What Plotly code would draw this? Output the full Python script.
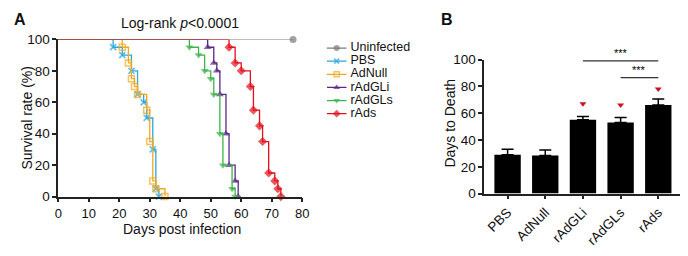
import plotly.graph_objects as go

# ---------------- data ----------------
groups = ["Uninfected", "PBS", "AdNull", "rAdGLi", "rAdGLs", "rAds"]
uninf_days = [77]
uninf_surv = [100]
pbs_days = [18, 21, 24, 26, 28, 29, 31, 32, 33]
pbs_surv = [95, 90, 80, 65, 60, 50, 30, 5, 0]
adnull_days = [21, 23, 24, 25, 26, 29, 30, 31, 32, 35]
adnull_surv = [95, 85, 75, 70, 65, 55, 35, 10, 5, 0]
gli_days = [49, 51, 52, 53, 55, 56, 58, 59]
gli_surv = [95, 85, 80, 65, 40, 20, 10, 0]
gls_days = [43, 46, 48, 50, 51, 53, 54, 57, 58]
gls_surv = [95, 90, 80, 75, 65, 40, 20, 5, 0]
ads_days = [56, 58, 60, 63, 64, 66, 67, 69, 71, 72, 73]
ads_surv = [95, 85, 80, 70, 55, 45, 35, 15, 10, 5, 0]

bar_cats = ["PBS", "AdNull", "rAdGLi", "rAdGLs", "rAds"]
bar_means = [29, 28.5, 55, 53, 66]
bar_sem = [4, 4, 2.5, 3.8, 4.6]
sig_marks_y = [None, None, 67, 66, 78]
x_ticks_a = [0, 10, 20, 30, 40, 50, 60, 70, 80]
y_ticks = [0, 20, 40, 60, 80, 100]

# ---------------- style ----------------
OFF = 8                      # default page margin of the html body
W, H = 688 - OFF, 256 - 2 * OFF
FONT = "Arial, Liberation Sans, sans-serif"
styles = {
    "Uninfected": dict(color="#7a7a7a", symbol="circle", size=7, lw=0),
    "PBS": dict(color="#2aa6e0", symbol="x-thin", size=6, lw=1.8),
    "AdNull": dict(color="#f2a81d", symbol="square-open", size=6, lw=1.5),
    "rAdGLi": dict(color="#5b2786", symbol="triangle-up", size=7, lw=0),
    "rAdGLs": dict(color="#3cb44a", symbol="triangle-down", size=7, lw=0),
    "rAds": dict(color="#e3101c", symbol="diamond", size=7, lw=0),
}
series = {
    "Uninfected": (uninf_days, uninf_surv),
    "PBS": (pbs_days, pbs_surv),
    "AdNull": (adnull_days, adnull_surv),
    "rAdGLi": (gli_days, gli_surv),
    "rAdGLs": (gls_days, gls_surv),
    "rAds": (ads_days, ads_surv),
}


def px(x):
    return (x - OFF) / W


def py(y):
    return 1 - (y - OFF) / H


fig = go.Figure()

# ---- panel A : Kaplan-Meier curves ----
for g in groups:
    d, s = series[g]
    st = styles[g]
    xs = [0] + list(d)
    ys = [100] + list(s)
    sizes = [0] + [st["size"]] * len(d)
    fig.add_trace(go.Scatter(
        x=xs, y=ys, mode="lines+markers", line=dict(shape="hv", color=st["color"], width=1.3),
        marker=dict(symbol=st["symbol"], size=sizes, color=st["color"],
                    line=dict(width=st["lw"], color=st["color"])),
        xaxis="x", yaxis="y", cliponaxis=False, showlegend=False, name=g))

# ---- manual legend (icon spans 0..1 of x3, labels to the right) ----
for i, g in enumerate(groups):
    st = styles[g]
    fig.add_trace(go.Scatter(
        x=[0, 0.5, 1], y=[i, i, i], mode="lines+markers",
        line=dict(color=st["color"], width=1.3),
        marker=dict(symbol=st["symbol"], size=[0, st["size"] - 1, 0], color=st["color"],
                    line=dict(width=st["lw"], color=st["color"])),
        xaxis="x3", yaxis="y3", cliponaxis=False, showlegend=False, hoverinfo="skip"))
fig.add_trace(go.Scatter(
    x=[1.2] * len(groups), y=list(range(len(groups))), mode="text", text=groups,
    textposition="middle right", textfont=dict(family=FONT, size=12.5, color="#111"),
    xaxis="x3", yaxis="y3", cliponaxis=False, showlegend=False, hoverinfo="skip"))

# ---- panel B : bars ----
bx = list(range(len(bar_cats)))
fig.add_trace(go.Bar(
    x=bx, y=bar_means, width=0.7, marker=dict(color="#000", line=dict(width=0)),
    error_y=dict(type="data", symmetric=False, array=bar_sem, arrayminus=[0] * len(bar_sem),
                 color="#000", thickness=1.5, width=6),
    xaxis="x2", yaxis="y2", showlegend=False))
sx = [x for x, v in zip(bx, sig_marks_y) if v is not None]
sy = [v for v in sig_marks_y if v is not None]
fig.add_trace(go.Scatter(x=sx, y=sy, mode="markers",
                         marker=dict(symbol="triangle-down", size=6, color="#d0101c"),
                         xaxis="x2", yaxis="y2", cliponaxis=False, showlegend=False))

# significance brackets (line in data units, stars in paper y)
for (x0, x1, yl, star_px) in [(2, 4, 99, 48.5), (3, 4, 86.5, 66.5)]:
    fig.add_shape(type="line", x0=x0, x1=x1, y0=yl, y1=yl, xref="x2", yref="y2",
                  line=dict(color="#333", width=1.3))
    fig.add_annotation(x=(x0 + x1) / 2, y=py(star_px), xref="x2", yref="paper", text="***",
                       showarrow=False, yanchor="middle",
                       font=dict(family=FONT, size=11, color="#000"))

axis_common = dict(showline=True, linecolor="#222", linewidth=1.5, ticks="outside",
                   ticklen=4, tickwidth=1.5, tickcolor="#222", showgrid=False, zeroline=False)
tf = dict(family=FONT, size=13.5, color="#111")

fig.update_layout(
    width=W, height=H, margin=dict(l=0, r=0, t=0, b=0),
    paper_bgcolor="white", plot_bgcolor="white",
    font=dict(family=FONT, color="#111"),
    xaxis=dict(domain=[px(55), px(303)], range=[0, 80], tickvals=x_ticks_a, anchor="y",
               tickfont=dict(family=FONT, size=13, color="#111"), **axis_common),
    yaxis=dict(domain=[py(201.7), py(34)], range=[0, 100], tickvals=y_ticks, anchor="x",
               tickfont=tf, **axis_common),
    xaxis2=dict(domain=[px(488), px(687)], range=[-0.62, 4.577], tickvals=bx, ticktext=bar_cats,
                tickangle=-45, anchor="y2", tickfont=tf, **axis_common),
    yaxis2=dict(domain=[py(198.5), py(55.5)], range=[0, 100], tickvals=y_ticks, anchor="x2",
                tickfont=tf, **axis_common),
    # legend box: 0..1 of x3 maps to pixels 328..348
    xaxis3=dict(domain=[px(328), px(428)], range=[0, 5], visible=False, anchor="y3"),
    yaxis3=dict(domain=[py(120.3), py(36.3)], range=[5.5, -0.5], visible=False, anchor="x3"),
)

# titles / labels
fig.add_annotation(x=0, y=py(13), xref="paper", yref="paper", text="<b>A</b>", showarrow=False,
                   xanchor="left", yanchor="middle", font=dict(family=FONT, size=16, color="#111"))
ann = [
    dict(x=px(450), y=py(13), text="<b>B</b>", size=16),
    dict(x=px(179), y=py(16.5), text="Log-rank <i>p</i><0.0001", size=14),
    dict(x=px(181), y=py(236), text="Days post infection", size=14),
]
for a in ann:
    fig.add_annotation(x=a["x"], y=a["y"], xref="paper", yref="paper", text=a["text"], showarrow=False,
                       xanchor="center", yanchor="middle", borderpad=0,
                       font=dict(family=FONT, size=a["size"], color="#111"))
fig.add_annotation(x=px(14.5), y=py(118), xref="paper", yref="paper", text="Survival rate (%)",
                   textangle=-90, showarrow=False, borderpad=0,
                   font=dict(family=FONT, size=14, color="#111"))
fig.add_annotation(x=px(453), y=py(123), xref="paper", yref="paper", text="Days to Death",
                   textangle=-90, showarrow=False, borderpad=0,
                   font=dict(family=FONT, size=14, color="#111"))

fig.write_html("out.html", config={"displayModeBar": False})
